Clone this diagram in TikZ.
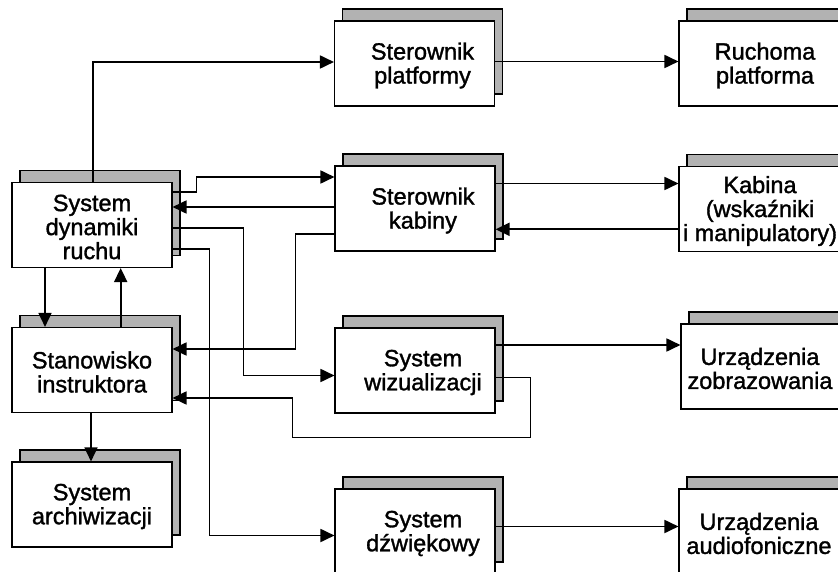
\documentclass[tikz,border=0pt]{standalone}
\usepackage{fontspec}
\setmainfont{Liberation Sans}[BoldFont=Liberation Sans,BoldFeatures={FakeBold=1.4}]
\usetikzlibrary{arrows.meta}
\definecolor{shadowgray}{RGB}{178,178,178}
\tikzset{
  shadowbox/.style={fill=shadowgray,draw=black,line width=1.1pt},
  frontbox/.style={fill=white,draw=black,line width=1.1pt,minimum width=160pt,minimum height=85pt,inner sep=0pt},
  lbl/.style={align=center,font=\fontsize{23.5}{24}\selectfont\bfseries,inner sep=0pt},
  conn/.style={line width=1.8pt,-{Triangle[length=14pt,width=13pt]}}
}
\newcommand\shbox[5]{%
  \draw[shadowbox] (#2-72,#3-54.5) rectangle (#2+88,#3+30.5);
  \node[frontbox] (#1) at (#2,#3) {};
  \node[lbl] (#1-t) at (#2+#5,#3+2) {#4};
}
\begin{document}
\begin{tikzpicture}[x=1pt,y=-1pt]
\clip (0,0) rectangle (838,572);
\fill[white] (0,0) rectangle (838,572);
% boxes
\shbox{plat}{414.5}{63.5}{Sterownik\\platformy}{8}
\shbox{ruch}{759}{63.5}{Ruchoma\\platforma}{6}
\shbox{sk}{415}{208.5}{Sterownik\\kabiny}{8}
\shbox{kab}{759}{209}{Kabina\\(wskaźniki\\i manipulatory)}{1}
\shbox{sdr}{92}{225}{System\\dynamiki\\ruchu}{0}
\shbox{si}{92}{370}{Stanowisko\\instruktora}{0}
\shbox{sw}{415}{370.5}{System\\wizualizacji}{8}
\shbox{uz}{761}{366.5}{Urządzenia\\zobrazowania}{-1}
\shbox{sa}{92}{504.5}{System\\archiwizacji}{0}
\shbox{sd}{415}{531.5}{System\\dźwiękowy}{8}
\shbox{ua}{759}{531.5}{Urządzenia\\audiofoniczne}{0}
% connectors
\draw[conn] ([xshift=0.7pt]sdr.north) |- ([yshift=1.5pt]plat.west);
\draw[conn] ([yshift=33pt]sdr.east) -- ++(24,0) |- ([yshift=31.5pt]sk.west);
\draw[conn] ([yshift=1.5pt]sk.west) -- ([yshift=1.5pt]sk.west -| sdr.east);
\draw[conn] ([yshift=-25.5pt]sk.west) -- ++(-39,0) |- ([yshift=21pt]si.east);
\draw[conn] ([yshift=-2.7pt]sdr.east) -- ++(71,0) |- ([yshift=-5pt]sw.west);
\draw[conn] ([yshift=-24pt]sdr.east) -- ++(37,0) |- ([yshift=-4pt]sd.west);
\draw[conn] ([yshift=-7pt]sw.east) -- ++(35,0) -- ++(0,60) -- ++(-238,0) |- ([yshift=-28pt]si.east);
\draw[conn] ([yshift=2pt]plat.east) -- ([yshift=2pt]plat.east -| ruch.west);
\draw[conn] ([yshift=25pt]sk.east) -- ([yshift=25pt]sk.east -| kab.west);
\draw[conn] ([yshift=-20.3pt]kab.west) -- ([yshift=-20.3pt]kab.west -| sk.east);
\draw[conn] ([yshift=25.5pt]sw.east) -- ([yshift=25.5pt]sw.east -| uz.west);
\draw[conn] ([yshift=5pt]sd.east) -- ([yshift=5pt]sd.east -| ua.west);
\draw[conn] ([xshift=-47pt]sdr.south) -- ([xshift=-47pt]sdr.south |- si.north);
\draw[conn] ([xshift=28.7pt]si.north) -- ([xshift=28.7pt]si.north |- sdr.south);
\draw[conn] ([xshift=-1pt]si.south) -- ([xshift=-1pt]sa.north);
\end{tikzpicture}
\end{document}
